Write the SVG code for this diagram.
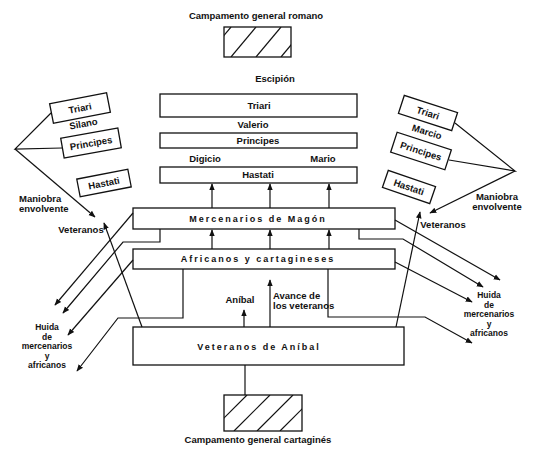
<svg xmlns="http://www.w3.org/2000/svg" width="550" height="462" viewBox="0 0 550 462">
<style>
.b{fill:#fff;stroke:#111;stroke-width:1.3}
.l{fill:none;stroke:#111;stroke-width:1.2}
.a{fill:none;stroke:#111;stroke-width:1.2;marker-end:url(#ah)}
.t{font-family:"Liberation Sans",Arial,sans-serif;font-size:9.5px;font-weight:bold;fill:#111;text-anchor:middle}
.u{font-family:"Liberation Sans",Arial,sans-serif;font-size:8.5px;font-weight:bold;fill:#111;text-anchor:middle}
.s{font-family:"Liberation Sans",Arial,sans-serif;font-size:9px;font-weight:bold;fill:#111;text-anchor:middle;letter-spacing:2px}
.h{stroke:#111;stroke-width:1.2}
</style>
<defs>
<marker id="ah" viewBox="0 0 10 10" refX="9" refY="5" markerWidth="7" markerHeight="7" markerUnits="userSpaceOnUse" orient="auto">
<path d="M0,1 L10,5 L0,9 Z" fill="#111"/>
</marker>
<clipPath id="c1"><rect x="224" y="27" width="67" height="30"/></clipPath>
<clipPath id="c2"><rect x="224" y="395" width="78" height="36"/></clipPath>
</defs>

<g id="roman-camp">
<text class="t" x="256" y="19">Campamento general romano</text>
<rect class="b" x="224" y="27" width="67" height="30"/>
<g clip-path="url(#c1)">
<line class="h" x1="206" y1="57" x2="231" y2="27"/>
<line class="h" x1="231" y1="57" x2="256" y2="27"/>
<line class="h" x1="256" y1="57" x2="281" y2="27"/>
<line class="h" x1="281" y1="57" x2="306" y2="27"/>
</g>
</g>

<g id="escipion"><text class="t" x="275" y="82">Escipión</text></g>

<g id="triari-c"><rect class="b" x="160" y="94" width="197" height="23"/><text class="t" x="259" y="109">Triari</text></g>
<g id="valerio"><text class="t" x="253" y="128">Valerio</text></g>
<g id="principes-c"><rect class="b" x="160" y="133" width="197" height="15"/><text class="t" x="258" y="144">Principes</text></g>
<g id="digicio"><text class="t" x="205" y="162">Digicio</text></g>
<g id="mario"><text class="t" x="323" y="162">Mario</text></g>
<g id="hastati-c"><rect class="b" x="160" y="167" width="197" height="16"/><text class="t" x="258" y="178">Hastati</text></g>

<g id="mercenarios"><rect class="b" x="133" y="208" width="262" height="21"/><text class="s" x="258" y="222">Mercenarios de Magón</text></g>
<g id="africanos"><rect class="b" x="133" y="249" width="262" height="20"/><text class="s" x="258" y="262">Africanos y cartagineses</text></g>
<g id="veteranos-anibal"><rect class="b" x="133" y="327" width="271" height="38"/><text class="s" x="259" y="350">Veteranos de Aníbal</text></g>

<g id="carthage-camp">
<rect class="b" x="224" y="395" width="78" height="36"/>
<g clip-path="url(#c2)">
<line class="h" x1="211" y1="431" x2="247" y2="395"/>
<line class="h" x1="234" y1="431" x2="270" y2="395"/>
<line class="h" x1="257" y1="431" x2="293" y2="395"/>
<line class="h" x1="280" y1="431" x2="316" y2="395"/>
</g>
<text class="t" x="258" y="443">Campamento general cartaginés</text>
</g>

<g id="left-triari"><g transform="translate(80,108) rotate(-11)"><rect class="b" x="-29" y="-10" width="58" height="20"/><text class="t" x="0" y="3.5">Triari</text></g></g>
<g id="silano"><text class="t" transform="translate(84,127) rotate(-10)">Silano</text></g>
<g id="left-principes"><g transform="translate(91,143) rotate(-10)"><rect class="b" x="-29" y="-10" width="58" height="20"/><text class="t" x="0" y="3.5">Principes</text></g></g>
<g id="left-hastati"><g transform="translate(104,183) rotate(-11)"><rect class="b" x="-26" y="-9" width="52" height="18"/><text class="t" x="0" y="3.5">Hastati</text></g></g>

<g id="right-triari"><g transform="translate(428,113) rotate(18)"><rect class="b" x="-28" y="-9.5" width="56" height="19"/><text class="t" x="0" y="3.5">Triari</text></g></g>
<g id="marcio"><text class="t" transform="translate(426,135) rotate(17)">Marcio</text></g>
<g id="right-principes"><g transform="translate(421,151) rotate(18)"><rect class="b" x="-28.5" y="-10.5" width="57" height="21"/><text class="t" x="0" y="3.5">Principes</text></g></g>
<g id="right-hastati"><g transform="translate(409,187) rotate(19)"><rect class="b" x="-25" y="-9" width="50" height="18"/><text class="t" x="0" y="3.5">Hastati</text></g></g>

<g id="labels">
<text class="t" style="text-anchor:start" x="19" y="202">Maniobra</text>
<text class="t" style="text-anchor:start" x="19" y="212">envolvente</text>
<text class="t" x="497" y="200">Maniobra</text>
<text class="t" x="497" y="210">envolvente</text>
<text class="t" x="81" y="233">Veteranos</text>
<text class="t" x="443" y="228">Veteranos</text>
<text class="t" x="240" y="303">Aníbal</text>
<text class="t" style="text-anchor:start" x="273" y="299">Avance de</text>
<text class="t" style="text-anchor:start" x="273" y="309">los veteranos</text>
<text class="u" x="47" y="330">Huida</text>
<text class="u" x="47" y="339.5">de</text>
<text class="u" x="47" y="349">mercenarios</text>
<text class="u" x="47" y="358.5">y</text>
<text class="u" x="47" y="368">africanos</text>
<text class="u" x="489" y="298">Huida</text>
<text class="u" x="489" y="307.5">de</text>
<text class="u" x="489" y="317">mercenarios</text>
<text class="u" x="489" y="326.5">y</text>
<text class="u" x="489" y="336">africanos</text>
</g>

<g id="connectors">
<line class="a" x1="212" y1="208" x2="212" y2="184"/>
<line class="a" x1="270" y1="208" x2="270" y2="184"/>
<line class="a" x1="329" y1="208" x2="329" y2="184"/>
<line class="a" x1="212" y1="249" x2="212" y2="230"/>
<line class="a" x1="270" y1="249" x2="270" y2="230"/>
<line class="a" x1="329" y1="249" x2="329" y2="230"/>
<line class="a" x1="244" y1="327" x2="244" y2="310"/>
<line class="a" x1="270" y1="327" x2="270" y2="280"/>
<line class="l" x1="245" y1="365" x2="245" y2="395"/>
<line class="a" x1="142" y1="327" x2="104" y2="223"/>
<line class="a" x1="396" y1="327" x2="420" y2="212"/>
<polyline class="l" points="51,113 15,149 62,148"/>
<line class="a" x1="15" y1="149" x2="95" y2="217"/>
<polyline class="l" points="455,123 515,171 449,160"/>
<line class="a" x1="515" y1="171" x2="430" y2="213"/>
<line class="a" x1="133" y1="213" x2="55" y2="305"/>
<polyline class="a" points="160,229 160,242 123,242 63,313"/>
<line class="a" x1="133" y1="260" x2="68" y2="335"/>
<polyline class="a" points="183,269 183,318 118,318 77,371"/>
<line class="a" x1="395" y1="220" x2="500" y2="280"/>
<polyline class="a" points="359,229 359,239 403,239 483,287"/>
<line class="a" x1="395" y1="262" x2="472" y2="302"/>
<polyline class="a" points="328,269 328,317 425,317 472,343"/>
</g>
</svg>
